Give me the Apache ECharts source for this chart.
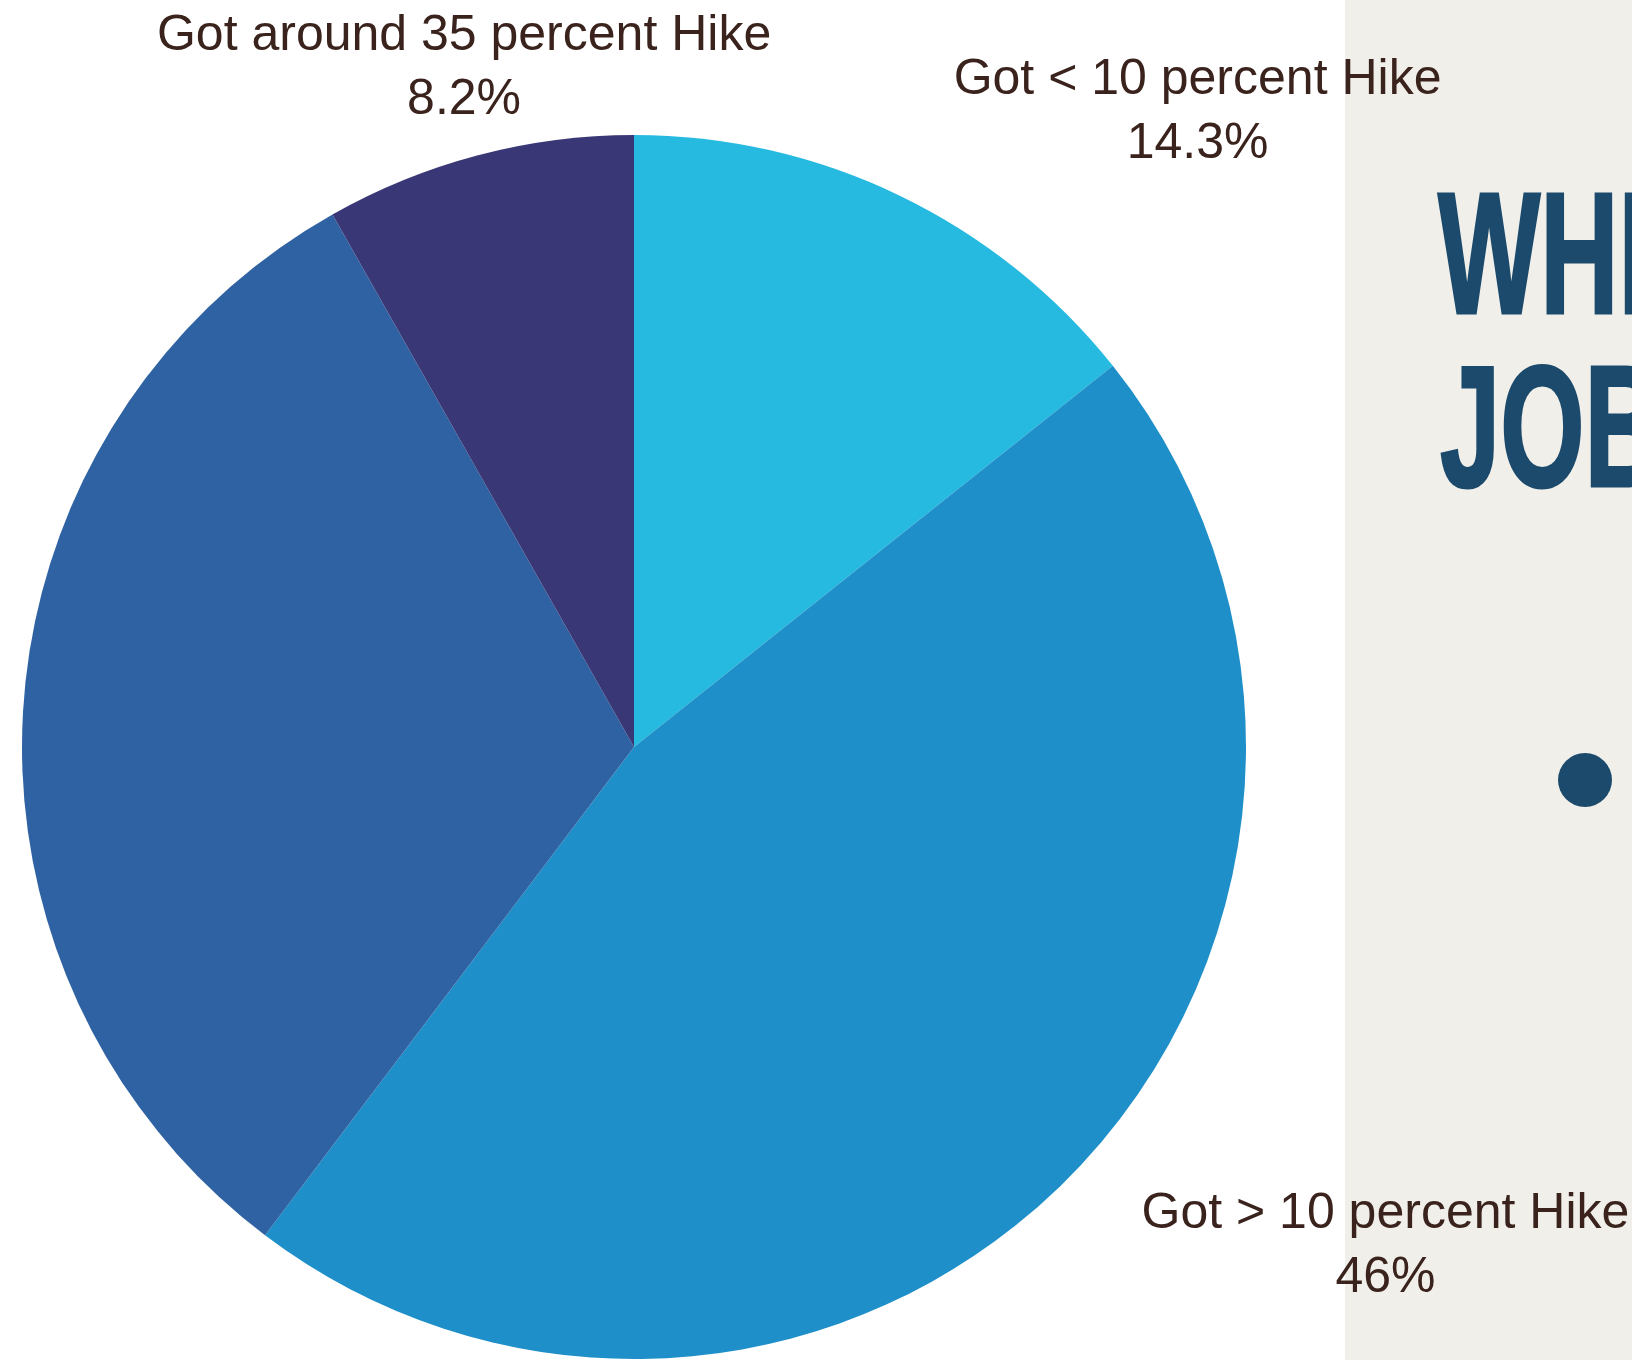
<!DOCTYPE html>
<html>
<head>
<meta charset="utf-8">
<script src="https://cdn.jsdelivr.net/npm/echarts@6/dist/echarts.min.js"></script>
<style>
  html, body { margin: 0; padding: 0; background: #ffffff; }
  #chart { width: 1632px; height: 1360px; }
</style>
</head>
<body>
<div id="chart"></div>
<script>
// Salary hike distribution (share of respondents, %)
const categories = [
  'Got < 10 percent Hike',
  'Got > 10 percent Hike',
  'Got no Hike',
  'Got around 35 percent Hike'
];
const shares = [14.3, 46, 31.5, 8.2];
const sliceColors = ['#26bae0', '#1e8fc8', '#2f62a3', '#393775'];

// Side panel heading (continues beyond the visible area)
const headingLines = ['WHI', 'JOB'];

// Pie geometry (pixels)
const CX = 634, CY = 747, R = 612;
const GAP = 55;      // distance of the label anchor beyond the rim
const PAD_X = 30;    // horizontal clearance of side labels
const PAD_Y = -30;   // vertical clearance relative to half label height

// Mid angle of each slice, measured clockwise from 12 o'clock
const total = shares.reduce((a, b) => a + b, 0);
const midAngles = [];
let acc = 0;
shares.forEach(v => {
  midAngles.push((acc + v / 2) / total * Math.PI * 2);
  acc += v;
});

const chart = echarts.init(document.getElementById('chart'), null, { renderer: 'canvas' });

const textColor = '#3b231d';
const headingColor = '#1c4a6c';
const headingFont = 'bold 172px "Liberation Sans", Arial, sans-serif';

chart.setOption({
  animation: false,
  backgroundColor: '#ffffff',
  graphic: [
    {
      type: 'rect',
      z: 0,
      shape: { x: 1345, y: 0, width: 287, height: 1360 },
      style: { fill: '#f0efea' }
    },
    {
      type: 'text',
      z: 1,
      x: 1438, y: 266,
      scaleX: 0.63,
      style: {
        text: headingLines[0],
        font: headingFont,
        fill: headingColor,
        stroke: headingColor,
        lineWidth: 3,
        align: 'left',
        verticalAlign: 'middle'
      }
    },
    {
      type: 'text',
      z: 1,
      x: 1440, y: 439,
      scaleX: 0.63,
      style: {
        text: headingLines[1],
        font: headingFont,
        fill: headingColor,
        stroke: headingColor,
        lineWidth: 3,
        align: 'left',
        verticalAlign: 'middle'
      }
    },
    {
      type: 'circle',
      z: 1,
      shape: { cx: 1585, cy: 780, r: 27 },
      style: { fill: headingColor }
    }
  ],
  series: [{
    type: 'pie',
    center: [CX, CY],
    radius: R,
    startAngle: 90,
    clockwise: true,
    avoidLabelOverlap: false,
    itemStyle: { borderWidth: 0 },
    emphasis: { disabled: true },
    labelLine: { show: false },
    label: {
      position: 'inside',
      formatter: '{b}\n{c}%',
      fontFamily: '"Liberation Sans", Arial, sans-serif',
      fontSize: 50,
      lineHeight: 64,
      color: textColor,
      align: 'center'
    },
    labelLayout: function (p) {
      const mid = midAngles[p.dataIndex];
      const sx = Math.sin(mid), sy = -Math.cos(mid);
      let x = CX + (R + GAP) * sx;
      let y = CY + (R + GAP) * sy;
      const w = p.labelRect.width, h = p.labelRect.height;
      if (Math.abs(sx) > 0.3) x += Math.sign(sx) * (w / 2 + PAD_X);
      y += Math.sign(sy) * (h / 2 + PAD_Y);
      return { x: x, y: y, align: 'center', verticalAlign: 'middle' };
    },
    data: categories.map((name, i) => ({
      name: name,
      value: shares[i],
      itemStyle: { color: sliceColors[i] },
      // labels pointing far to the left fall outside the drawing area
      label: { show: Math.sin(midAngles[i]) > -0.5 }
    }))
  }]
});
</script>
</body>
</html>
